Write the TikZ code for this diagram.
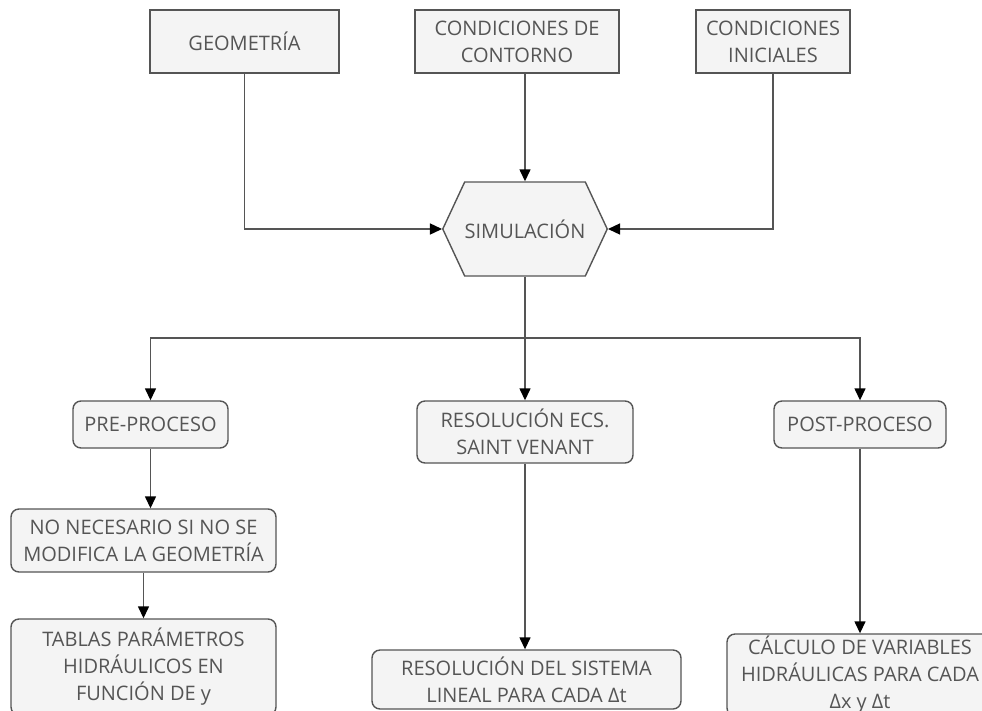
\documentclass[tikz,border=0pt]{standalone}
\usepackage{fontspec}
\setmainfont{Open Sans}
\usetikzlibrary{arrows.meta,shapes.symbols}
\definecolor{cajafondo}{HTML}{F4F4F4}
\definecolor{cajaborde}{HTML}{555555}
\definecolor{cajatexto}{HTML}{555555}
\begin{document}
\begin{tikzpicture}[x=1pt,y=-1pt,
  caja/.style={rectangle, fill=cajafondo, draw=cajaborde, line width=1.4pt, text=cajatexto, align=center, inner sep=0pt, font=\fontsize{20}{27}\selectfont},
  redonda/.style={caja, rounded corners=8pt},
  flecha/.style={draw=cajaborde, line width=1.4pt, -{Triangle[length=12pt,width=11pt,color=black]}},
  linea/.style={draw=cajaborde, line width=1.4pt}]
\useasboundingbox (0,0) rectangle (982,710);
\clip (0,0) rectangle (982,710);
% datos de entrada
\node [caja, minimum width=189, minimum height=63] (geo) at (244.5,41.5) {GEOMETRÍA};
\node [caja, minimum width=204, minimum height=63] (cont) at (517,41.5) {CONDICIONES DE\\CONTORNO};
\node [caja, minimum width=154, minimum height=63] (ini) at (773,41.5) {CONDICIONES\\INICIALES};
% simulacion
\node [caja, signal, signal to=east and west, signal pointer angle=130, minimum width=156, minimum height=94] (sim) at (525,229) {SIMULACIÓN};
% etapas
\node [redonda, minimum width=155, minimum height=47] (pre) at (150.5,424.5) {PRE-PROCESO};
\node [redonda, minimum width=216, minimum height=62] (ecs) at (525,432) {RESOLUCIÓN ECS.\\SAINT VENANT};
\node [redonda, minimum width=172, minimum height=47] (post) at (860,424.5) {POST-PROCESO};
\node [redonda, minimum width=265, minimum height=63] (nonec) at (143.5,540.5) {NO NECESARIO SI NO SE\\MODIFICA LA GEOMETRÍA};
\node [redonda, minimum width=265, minimum height=96] (tablas) at (143.5,667) {TABLAS PARÁMETROS\\HIDRÁULICOS EN\\FUNCIÓN DE y};
\node [redonda, minimum width=309, minimum height=59] (sistema) at (526.5,679.5) {RESOLUCIÓN DEL SISTEMA\\LINEAL PARA CADA Δt};
\node [redonda, minimum width=266, minimum height=82] (calc) at (860,675) {CÁLCULO DE VARIABLES\\HIDRÁULICAS PARA CADA\\Δx y Δt};
\coordinate (reparto) at (525,338);
% conexiones
\draw [flecha] (geo.south) |- (sim.west);
\draw [flecha] (cont.south -| sim.north) -- (sim.north);
\draw [flecha] (ini.south) |- (sim.east);
\draw [linea] (sim.south) -- (reparto);
\draw [flecha] (reparto) -| (pre.north);
\draw [flecha] (reparto) -- (ecs.north);
\draw [flecha] (reparto) -| (post.north);
\draw [flecha] (pre.south) -- (pre.south |- nonec.north);
\draw [flecha] (nonec.south) -- (tablas.north);
\draw [flecha] (ecs.south) -- (sistema.north -| ecs.south);
\draw [flecha] (post.south) -- (calc.north);
\end{tikzpicture}
\end{document}
